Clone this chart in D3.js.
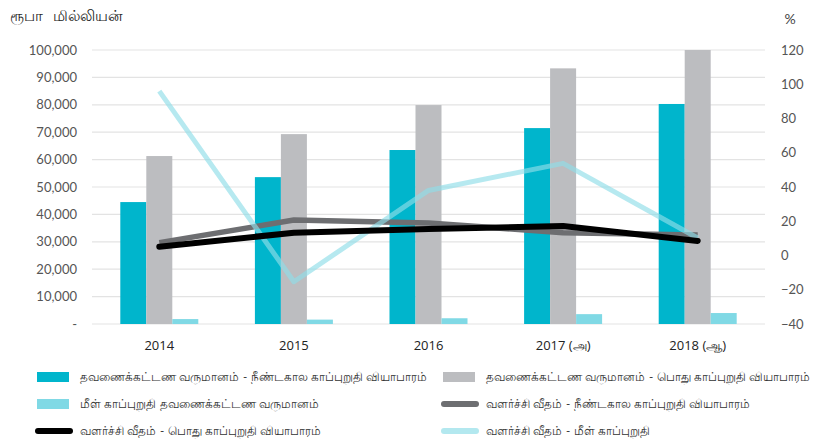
<!DOCTYPE html>
<html>
<head>
<meta charset="utf-8">
<script src="https://cdn.jsdelivr.net/npm/d3@7"></script>
<style>
  body { margin: 0; background: #fff; }
  text { font-family: Lato, "Open Sans", sans-serif; }
</style>
</head>
<body>
<script>
// données
const annees = ["2014", "2015", "2016", "2017 (அ)", "2018 (ஆ)"];
const revenuLongTerme = [44500, 53600, 63500, 71500, 80300];
const revenuGeneral = [61300, 69300, 79900, 93300, 100000];
const revenuReassurance = [1800, 1600, 2100, 3600, 4000];
const croissanceLongTerme = [7.5, 20.7, 19, 13.3, 12];
const croissanceGeneral = [5.1, 13.3, 15.5, 17.2, 8.5];
const croissanceReassurance = [96, -15.3, 38, 53.8, 10.2];
const ticksGauche = [0, 10000, 20000, 30000, 40000, 50000, 60000, 70000, 80000, 90000, 100000];
const ticksDroite = [-40, -20, 0, 20, 40, 60, 80, 100, 120];

const largeur = 817, hauteur = 445;
const gauche = 92, droite = 765, haut = 50, bas = 324;

const svg = d3.select("body").append("svg")
    .attr("width", largeur)
    .attr("height", hauteur);

const x = d3.scaleBand().domain(annees).range([gauche, droite]);
const yG = d3.scaleLinear().domain([0, 100000]).range([bas, haut]);
const yD = d3.scaleLinear().domain([-40, 120]).range([bas, haut]);
const largeurBarre = 26;

// titre des axes
svg.append("text").attr("x", 10).attr("y", 21)
    .attr("font-size", 15).attr("fill", "#222")
    .attr("word-spacing", 6).text("ரூபா மில்லியன்");
svg.append("text").attr("x", 790).attr("y", 24).attr("text-anchor", "middle")
    .attr("font-size", 14).attr("fill", "#444").text("%");

// grille
svg.append("g").selectAll("line").data(ticksGauche).join("line")
    .attr("x1", gauche).attr("x2", droite)
    .attr("y1", d => yG(d)).attr("y2", d => yG(d))
    .attr("stroke", "#e3e3e3").attr("stroke-width", 1.2);

// axe gauche
const axeG = svg.append("g").attr("transform", `translate(${gauche - 12},0)`)
    .call(d3.axisLeft(yG).tickValues(ticksGauche).tickSize(0)
        .tickFormat(d => d === 0 ? "-" : d3.format(",")(d)));
axeG.select(".domain").remove();
axeG.selectAll("text").attr("font-size", 13).attr("fill", "#555")
    .style("font-family", "Lato, sans-serif");

// axe droit
const axeD = svg.append("g").attr("transform", `translate(${droite + 13},0)`)
    .call(d3.axisRight(yD).tickValues(ticksDroite).tickSize(0));
axeD.select(".domain").remove();
axeD.selectAll("text").attr("font-size", 13).attr("fill", "#555")
    .style("font-family", "Lato, sans-serif");

// axe des années
const axeX = svg.append("g").attr("transform", `translate(0,${bas + 14})`)
    .call(d3.axisBottom(x).tickSize(0));
axeX.select(".domain").remove();
axeX.selectAll("text").attr("font-size", 13).attr("fill", "#222")
    .style("font-family", "'Open Sans', sans-serif");

// barres
const series = [
    { valeurs: revenuLongTerme, couleur: "#00b5cc" },
    { valeurs: revenuGeneral, couleur: "#bcbdc0" },
    { valeurs: revenuReassurance, couleur: "#80d9e5" }
];
series.forEach((s, k) => {
    svg.append("g").selectAll("rect").data(s.valeurs).join("rect")
        .attr("x", (d, i) => x(annees[i]) + x.bandwidth() / 2 - 1.5 * largeurBarre + k * largeurBarre)
        .attr("y", d => yG(d))
        .attr("width", largeurBarre)
        .attr("height", d => bas - yG(d))
        .attr("fill", s.couleur);
});

// lignes de croissance
const ligne = d3.line()
    .x((d, i) => x(annees[i]) + x.bandwidth() / 2)
    .y(d => yD(d));

const lignes = [
    { valeurs: croissanceLongTerme, couleur: "#6d6e71", epaisseur: 5.5, opacite: 1, cap: "butt" },
    { valeurs: croissanceReassurance, couleur: "#8fdde8", epaisseur: 5, opacite: 0.65, cap: "butt" },
    { valeurs: croissanceGeneral, couleur: "#000", epaisseur: 6, opacite: 1, cap: "round" }
];
lignes.forEach(l => {
    svg.append("path").datum(l.valeurs)
        .attr("d", ligne)
        .attr("fill", "none")
        .attr("stroke", l.couleur)
        .attr("stroke-width", l.epaisseur)
        .attr("stroke-opacity", l.opacite)
        .attr("stroke-linecap", l.cap)
        .attr("stroke-linejoin", "round");
});

// légende
const legende = [
    { texte: "தவணைக்கட்டண வருமானம் - நீண்டகால காப்புறுதி வியாபாரம்", type: "barre", couleur: "#00b5cc" },
    { texte: "தவணைக்கட்டண வருமானம் - பொது காப்புறுதி வியாபாரம்", type: "barre", couleur: "#bcbdc0" },
    { texte: "மீள் காப்புறுதி தவணைக்கட்டண வருமானம்", type: "barre", couleur: "#80d9e5" },
    { texte: "வளர்ச்சி வீதம் - நீண்டகால காப்புறுதி வியாபாரம்", type: "ligne", couleur: "#6d6e71" },
    { texte: "வளர்ச்சி வீதம் - பொது காப்புறுதி வியாபாரம்", type: "ligne", couleur: "#000" },
    { texte: "வளர்ச்சி வீதம் - மீள் காப்புறுதி", type: "ligne", couleur: "#b3e8ef" }
];
legende.forEach((e, i) => {
    const col = i % 2, lig = Math.floor(i / 2);
    const lx = col === 0 ? 37 : 443;
    const ly = 377 + lig * 27;
    if (e.type === "barre") {
        svg.append("rect").attr("x", lx).attr("y", ly - 5)
            .attr("width", 32).attr("height", 10).attr("fill", e.couleur);
    } else {
        svg.append("line").attr("x1", lx + 1).attr("x2", lx + 33)
            .attr("y1", ly).attr("y2", ly)
            .attr("stroke", e.couleur).attr("stroke-width", 6)
            .attr("stroke-linecap", "round");
    }
    svg.append("text").attr("x", lx + 43).attr("y", ly + 4)
        .attr("font-size", 11.5).attr("word-spacing", 0.5)
        .attr("fill", "#333").text(e.texte);
});
</script>
</body>
</html>
